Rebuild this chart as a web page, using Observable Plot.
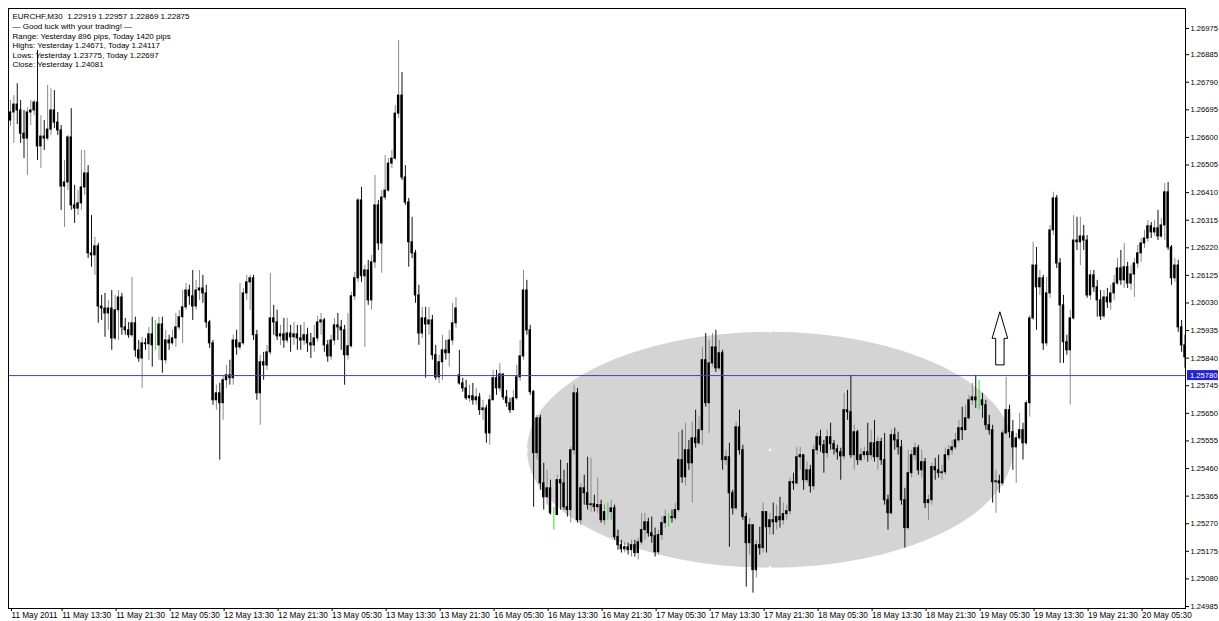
<!DOCTYPE html>
<html><head><meta charset="utf-8">
<script src="https://cdn.jsdelivr.net/npm/d3@7"></script>
<script src="https://cdn.jsdelivr.net/npm/@observablehq/plot@0.6"></script>
<style>html,body{margin:0;padding:0;background:#fff;} #chart svg{display:block;}</style>
</head><body><div id="chart"></div>
<script>
const symbolInfo = [
  "EURCHF,M30  1.22919 1.22957 1.22869 1.22875",
  "\u2014 Good luck with your trading! \u2014",
  "Range: Yesterday 896 pips, Today 1420 pips",
  "Highs: Yesterday 1.24671, Today 1.24117",
  "Lows: Yesterday 1.23775, Today 1.22697",
  "Close: Yesterday 1.24081"
];
const timeLabels = ["11 May 2011","11 May 13:30","11 May 21:30","12 May 05:30","12 May 13:30","12 May 21:30","13 May 05:30","13 May 13:30","13 May 21:30","16 May 05:30","16 May 13:30","16 May 21:30","17 May 05:30","17 May 13:30","17 May 21:30","18 May 05:30","18 May 13:30","18 May 21:30","19 May 05:30","19 May 13:30","19 May 21:30","20 May 05:30"];
const timeBars = [0,15,31,47,63,79,95,111,127,143,159,175,191,207,223,239,255,271,287,303,319,335];
const priceTicks = [1.26975,1.26885,1.26790,1.26695,1.26600,1.26505,1.26410,1.26315,1.26220,1.26125,1.26030,1.25935,1.25840,1.25745,1.25650,1.25555,1.25460,1.25365,1.25270,1.25175,1.25080,1.24985];
const levelPrice = 1.25780;
const ellipseBars = [153.2, 297.2];
const ellipsePrices = [1.25929, 1.25117];
const arrowBar = 293.3;
const arrowPrices = [1.25998, 1.25815];

const openPrice = [
1.26658,1.26686,1.26713,1.26693,1.26613,1.26596,1.26686,1.26693,1.26720,1.26569,
1.26603,1.26596,1.26627,1.26693,1.26651,1.26624,1.26431,1.26445,1.26600,1.26366,
1.26355,1.26373,1.26428,1.26476,1.26201,1.26194,1.26225,1.26018,1.26011,1.25994,
1.26011,1.25908,1.26005,1.26049,1.25946,1.25936,1.25919,1.25960,1.25867,1.25839,
1.25891,1.25888,1.25922,1.25884,1.25884,1.25956,1.25833,1.25901,1.25891,1.25908,
1.25946,1.25981,1.26015,1.26073,1.26053,1.26018,1.26073,1.26080,1.26063,1.25963,
1.25891,1.25695,1.25719,1.25685,1.25764,1.25781,1.25771,1.25901,1.25877,1.25891,
1.26063,1.26101,1.26115,1.25919,1.25719,1.25826,1.25815,1.25860,1.25977,1.25963,
1.25915,1.25922,1.25901,1.25925,1.25912,1.25922,1.25908,1.25901,1.25919,1.25891,
1.25884,1.25908,1.25963,1.25970,1.25884,1.25846,1.25901,1.25953,1.25946,1.25936,
1.25850,1.25881,1.26053,1.26115,1.26383,1.26122,1.26142,1.26039,1.26170,1.26366,
1.26235,1.26393,1.26417,1.26510,1.26527,1.26682,1.26744,1.26462,1.26376,1.26239,
1.26201,1.26056,1.25925,1.25977,1.25956,1.25970,1.25850,1.25774,1.25826,1.25867,
1.25857,1.25901,1.25960,1.25781,1.25753,1.25736,1.25702,1.25709,1.25695,1.25705,
1.25661,1.25667,1.25581,1.25695,1.25771,1.25736,1.25784,1.25705,1.25685,1.25661,
1.25702,1.25774,1.25846,1.26073,1.25936,1.25723,1.25513,1.25633,1.25409,1.25361,
1.25392,1.25300,1.25300,1.25420,1.25409,1.25327,1.25317,1.25523,1.25719,1.25282,
1.25392,1.25375,1.25334,1.25337,1.25327,1.25334,1.25282,1.25310,1.25310,1.25323,
1.25224,1.25196,1.25182,1.25189,1.25179,1.25196,1.25169,1.25206,1.25248,1.25275,
1.25237,1.25227,1.25172,1.25231,1.25272,1.25293,1.25293,1.25289,1.25317,1.25489,
1.25430,1.25523,1.25478,1.25564,1.25547,1.25592,1.25833,1.25685,1.25822,1.25877,
1.25805,1.25857,1.25489,1.25499,1.25375,1.25323,1.25602,1.25523,1.25293,1.25203,
1.25265,1.25110,1.25196,1.25186,1.25310,1.25258,1.25282,1.25275,1.25293,1.25282,
1.25303,1.25313,1.25413,1.25409,1.25499,1.25506,1.25420,1.25454,1.25399,1.25523,
1.25568,1.25540,1.25513,1.25568,1.25544,1.25526,1.25516,1.25502,1.25661,1.25654,
1.25506,1.25585,1.25489,1.25506,1.25516,1.25506,1.25547,1.25499,1.25551,1.25489,
1.25351,1.25306,1.25575,1.25557,1.25533,1.25351,1.25255,1.25444,1.25506,1.25530,
1.25454,1.25482,1.25341,1.25351,1.25465,1.25454,1.25444,1.25447,1.25506,1.25523,
1.25533,1.25557,1.25599,1.25592,1.25633,1.25695,1.25705,1.25695,1.25695,1.25678,
1.25609,1.25592,1.25413,1.25416,1.25409,1.25581,1.25661,1.25585,1.25533,1.25564,
1.25592,1.25547,1.25685,1.25977,1.26159,1.26084,1.26115,1.25891,1.26063,1.26280,
1.26390,1.26166,1.26022,1.25895,1.25867,1.25977,1.26245,1.26239,1.26259,1.26245,
1.26056,1.26125,1.26084,1.26039,1.25984,1.26049,1.26032,1.26063,1.26097,1.26149,
1.26108,1.26153,1.26097,1.26128,1.26166,1.26201,1.26235,1.26252,1.26294,1.26273,
1.26287,1.26259,1.26297,1.26411,1.26221,1.26115,1.26159,1.25946,1.25884];

const highPrice = [
1.26727,1.26744,1.26785,1.26727,1.26693,1.26703,1.26727,1.26727,1.26899,1.26675,
1.26658,1.26779,1.26768,1.26761,1.26686,1.26641,1.26521,1.26607,1.26699,1.26435,
1.26417,1.26555,1.26555,1.26503,1.26331,1.26256,1.26235,1.26056,1.26063,1.26039,
1.26073,1.26056,1.26073,1.26063,1.25977,1.25963,1.26118,1.25981,1.25901,1.25912,
1.25908,1.25946,1.25981,1.25970,1.25981,1.25981,1.25936,1.25919,1.25936,1.25994,
1.26005,1.26073,1.26097,1.26091,1.26142,1.26108,1.26142,1.26125,1.26091,1.25970,
1.25901,1.25747,1.25753,1.25781,1.25815,1.25833,1.25919,1.25936,1.26097,1.26080,
1.26125,1.26125,1.26125,1.25936,1.25850,1.25860,1.25884,1.26132,1.26022,1.26005,
1.25953,1.25977,1.25977,1.25953,1.25963,1.25953,1.25953,1.25963,1.25943,1.25925,
1.25953,1.25984,1.25994,1.25977,1.25901,1.25919,1.25977,1.25994,1.25970,1.25953,
1.25994,1.26067,1.26135,1.26390,1.26428,1.26159,1.26177,1.26194,1.26469,1.26383,
1.26417,1.26538,1.26527,1.26555,1.26710,1.26933,1.26823,1.26503,1.26390,1.26325,
1.26211,1.26091,1.26015,1.26015,1.26015,1.25987,1.25884,1.25850,1.25919,1.25901,
1.25936,1.26029,1.26049,1.25867,1.25771,1.25764,1.25747,1.25753,1.25736,1.25719,
1.25695,1.25678,1.25712,1.25798,1.25798,1.25822,1.25781,1.25729,1.25702,1.25729,
1.25815,1.25901,1.26142,1.26108,1.25953,1.25729,1.25643,1.25643,1.25478,1.25454,
1.25420,1.25327,1.25437,1.25489,1.25454,1.25478,1.25533,1.25747,1.25736,1.25409,
1.25437,1.25499,1.25495,1.25368,1.25427,1.25351,1.25334,1.25341,1.25351,1.25334,
1.25248,1.25213,1.25206,1.25203,1.25213,1.25213,1.25220,1.25306,1.25306,1.25289,
1.25293,1.25255,1.25248,1.25293,1.25317,1.25306,1.25317,1.25341,1.25585,1.25592,
1.25616,1.25557,1.25619,1.25661,1.25637,1.25877,1.25925,1.25901,1.25925,1.25936,
1.25901,1.25867,1.25523,1.25547,1.25385,1.25619,1.25661,1.25540,1.25306,1.25289,
1.25255,1.25213,1.25258,1.25341,1.25300,1.25306,1.25341,1.25334,1.25361,1.25341,
1.25334,1.25427,1.25444,1.25533,1.25533,1.25499,1.25482,1.25471,1.25540,1.25581,
1.25592,1.25557,1.25592,1.25616,1.25557,1.25540,1.25530,1.25719,1.25729,1.25781,
1.25609,1.25592,1.25530,1.25533,1.25616,1.25592,1.25626,1.25568,1.25564,1.25581,
1.25368,1.25592,1.25599,1.25585,1.25557,1.25392,1.25523,1.25523,1.25547,1.25540,
1.25523,1.25495,1.25368,1.25478,1.25495,1.25506,1.25471,1.25530,1.25540,1.25557,
1.25581,1.25626,1.25671,1.25678,1.25712,1.25753,1.25781,1.25764,1.25719,1.25695,
1.25643,1.25609,1.25454,1.25437,1.25592,1.25774,1.25678,1.25626,1.25581,1.25650,
1.25616,1.25695,1.25987,1.26239,1.26221,1.26142,1.26125,1.26118,1.26297,1.26411,
1.26400,1.26183,1.26056,1.25919,1.26005,1.26331,1.26325,1.26325,1.26297,1.26262,
1.26142,1.26142,1.26108,1.26073,1.26073,1.26080,1.26091,1.26125,1.26183,1.26211,
1.26235,1.26170,1.26159,1.26183,1.26228,1.26252,1.26280,1.26314,1.26307,1.26314,
1.26349,1.26321,1.26441,1.26445,1.26228,1.26183,1.26177,1.25970,1.25919];

const lowPrice = [
1.26638,1.26579,1.26644,1.26579,1.26527,1.26469,1.26641,1.26675,1.26521,1.26493,
1.26555,1.26589,1.26607,1.26631,1.26607,1.26349,1.26290,1.26417,1.26349,1.26304,
1.26331,1.26349,1.26400,1.26183,1.26153,1.26125,1.25960,1.25970,1.25912,1.25936,
1.25867,1.25901,1.25901,1.25919,1.25919,1.25908,1.25912,1.25843,1.25826,1.25736,
1.25867,1.25833,1.25809,1.25867,1.25833,1.25788,1.25820,1.25867,1.25884,1.25877,
1.25936,1.25891,1.26005,1.26022,1.25970,1.26005,1.26039,1.26029,1.25943,1.25874,
1.25678,1.25661,1.25489,1.25626,1.25736,1.25747,1.25747,1.25850,1.25867,1.25884,
1.26039,1.26005,1.25901,1.25695,1.25609,1.25764,1.25798,1.25850,1.25919,1.25901,
1.25884,1.25874,1.25891,1.25860,1.25884,1.25867,1.25867,1.25884,1.25860,1.25839,
1.25860,1.25895,1.25919,1.25860,1.25826,1.25833,1.25884,1.25901,1.25867,1.25747,
1.25833,1.25874,1.26039,1.26101,1.26101,1.25877,1.26022,1.26005,1.26149,1.26211,
1.26132,1.26383,1.26411,1.26493,1.26521,1.26665,1.26452,1.26366,1.26153,1.26183,
1.26029,1.25884,1.25908,1.25771,1.25919,1.25833,1.25764,1.25753,1.25764,1.25833,
1.25809,1.25884,1.25943,1.25747,1.25723,1.25695,1.25688,1.25678,1.25678,1.25643,
1.25626,1.25547,1.25540,1.25695,1.25712,1.25723,1.25695,1.25671,1.25650,1.25661,
1.25695,1.25760,1.25833,1.25919,1.25712,1.25327,1.25489,1.25385,1.25317,1.25334,
1.25300,1.25248,1.25300,1.25317,1.25317,1.25293,1.25272,1.25506,1.25272,1.25265,
1.25334,1.25317,1.25310,1.25310,1.25306,1.25272,1.25265,1.25282,1.25282,1.25213,
1.25179,1.25169,1.25169,1.25162,1.25155,1.25155,1.25145,1.25196,1.25213,1.25224,
1.25203,1.25155,1.25162,1.25213,1.25255,1.25258,1.25272,1.25282,1.25310,1.25409,
1.25399,1.25454,1.25341,1.25530,1.25540,1.25540,1.25671,1.25581,1.25809,1.25791,
1.25798,1.25454,1.25471,1.25189,1.25300,1.25317,1.25506,1.25282,1.25052,1.25162,
1.25031,1.25083,1.25162,1.25170,1.25169,1.25231,1.25231,1.25248,1.25255,1.25265,
1.25282,1.25300,1.25385,1.25403,1.25454,1.25385,1.25409,1.25375,1.25385,1.25506,
1.25516,1.25444,1.25495,1.25523,1.25506,1.25489,1.25420,1.25489,1.25626,1.25495,
1.25454,1.25471,1.25482,1.25489,1.25482,1.25489,1.25482,1.25454,1.25471,1.25334,
1.25248,1.25300,1.25523,1.25506,1.25334,1.25186,1.25248,1.25427,1.25489,1.25437,
1.25427,1.25323,1.25282,1.25334,1.25420,1.25427,1.25420,1.25437,1.25489,1.25506,
1.25523,1.25547,1.25557,1.25592,1.25626,1.25678,1.25667,1.25661,1.25633,1.25592,
1.25575,1.25341,1.25306,1.25375,1.25399,1.25575,1.25564,1.25454,1.25409,1.25557,
1.25489,1.25540,1.25637,1.25970,1.25936,1.26056,1.25867,1.25880,1.26046,1.26262,
1.26149,1.25822,1.25822,1.25850,1.25678,1.25970,1.26211,1.26159,1.26211,1.26046,
1.26039,1.26067,1.25981,1.25970,1.25975,1.26011,1.26005,1.26039,1.26091,1.26091,
1.26080,1.26080,1.26073,1.26049,1.26149,1.26170,1.26218,1.26239,1.26252,1.26259,
1.26245,1.26252,1.26245,1.26211,1.26091,1.26101,1.25929,1.25860,1.25805];

const closePrice = [
1.26686,1.26713,1.26693,1.26613,1.26596,1.26686,1.26693,1.26720,1.26569,1.26603,
1.26596,1.26627,1.26693,1.26651,1.26624,1.26431,1.26445,1.26600,1.26366,1.26355,
1.26373,1.26428,1.26476,1.26201,1.26194,1.26225,1.26018,1.26011,1.25994,1.26011,
1.25908,1.26005,1.26049,1.25946,1.25936,1.25919,1.25960,1.25867,1.25839,1.25891,
1.25888,1.25922,1.25884,1.25884,1.25956,1.25833,1.25901,1.25891,1.25908,1.25946,
1.25981,1.26015,1.26073,1.26053,1.26018,1.26073,1.26080,1.26063,1.25963,1.25891,
1.25695,1.25719,1.25685,1.25764,1.25781,1.25771,1.25901,1.25877,1.25891,1.26063,
1.26101,1.26115,1.25919,1.25719,1.25826,1.25815,1.25860,1.25977,1.25963,1.25915,
1.25922,1.25901,1.25925,1.25912,1.25922,1.25908,1.25901,1.25919,1.25891,1.25884,
1.25908,1.25963,1.25970,1.25884,1.25846,1.25901,1.25953,1.25946,1.25936,1.25850,
1.25881,1.26053,1.26115,1.26383,1.26122,1.26142,1.26039,1.26170,1.26366,1.26235,
1.26393,1.26417,1.26510,1.26527,1.26682,1.26744,1.26462,1.26376,1.26239,1.26201,
1.26056,1.25925,1.25977,1.25956,1.25970,1.25850,1.25774,1.25826,1.25867,1.25857,
1.25901,1.25960,1.26011,1.25753,1.25736,1.25702,1.25709,1.25695,1.25705,1.25661,
1.25667,1.25581,1.25695,1.25771,1.25736,1.25784,1.25705,1.25685,1.25661,1.25702,
1.25774,1.25846,1.26073,1.25936,1.25723,1.25513,1.25633,1.25409,1.25361,1.25392,
1.25306,1.25300,1.25420,1.25409,1.25327,1.25317,1.25523,1.25719,1.25282,1.25392,
1.25375,1.25334,1.25337,1.25327,1.25334,1.25282,1.25310,1.25310,1.25323,1.25224,
1.25196,1.25182,1.25189,1.25179,1.25196,1.25169,1.25206,1.25248,1.25275,1.25237,
1.25227,1.25172,1.25231,1.25272,1.25293,1.25293,1.25289,1.25317,1.25489,1.25430,
1.25523,1.25478,1.25564,1.25547,1.25592,1.25833,1.25685,1.25822,1.25877,1.25805,
1.25857,1.25489,1.25499,1.25375,1.25323,1.25602,1.25523,1.25293,1.25203,1.25265,
1.25110,1.25196,1.25186,1.25310,1.25258,1.25282,1.25275,1.25293,1.25282,1.25303,
1.25313,1.25413,1.25409,1.25499,1.25506,1.25420,1.25454,1.25399,1.25523,1.25568,
1.25540,1.25513,1.25568,1.25544,1.25526,1.25516,1.25502,1.25661,1.25654,1.25506,
1.25585,1.25489,1.25506,1.25516,1.25506,1.25547,1.25499,1.25551,1.25489,1.25351,
1.25306,1.25575,1.25557,1.25533,1.25351,1.25255,1.25444,1.25506,1.25530,1.25454,
1.25482,1.25341,1.25351,1.25465,1.25454,1.25444,1.25447,1.25506,1.25523,1.25533,
1.25557,1.25599,1.25592,1.25633,1.25695,1.25705,1.25695,1.25695,1.25678,1.25609,
1.25592,1.25413,1.25416,1.25409,1.25581,1.25661,1.25585,1.25533,1.25564,1.25592,
1.25547,1.25685,1.25977,1.26159,1.26084,1.26115,1.25891,1.26063,1.26280,1.26390,
1.26166,1.26022,1.25895,1.25867,1.25977,1.26245,1.26239,1.26259,1.26245,1.26056,
1.26125,1.26084,1.26039,1.25984,1.26049,1.26032,1.26063,1.26097,1.26149,1.26108,
1.26153,1.26097,1.26128,1.26166,1.26201,1.26235,1.26252,1.26294,1.26273,1.26287,
1.26259,1.26297,1.26411,1.26221,1.26115,1.26159,1.25946,1.25884,1.25843];

const bars = closePrice.map((c, i) => {
  const o = openPrice[i];
  return {i, o, c, h: Math.max(highPrice[i], o, c), l: Math.min(lowPrice[i], o, c), doji: o === c, up: c > o};
});
const upBars = bars.filter(d => d.up);
const downBars = bars.filter(d => !d.up && !d.doji);
const bodies = bars.filter(d => !d.doji);
const dojis = bars.filter(d => d.doji);

function ellipseMark(index, scales) {
  const x = scales.x, y = scales.y;
  const x0 = x(ellipseBars[0]), x1 = x(ellipseBars[1]);
  const y0 = y(ellipsePrices[0]), y1 = y(ellipsePrices[1]);
  const cx = (x0 + x1) / 2, cy = (y0 + y1) / 2;
  const g = d3.create("svg:g");
  g.append("ellipse").attr("cx", cx).attr("cy", cy)
    .attr("rx", Math.abs(x1 - x0) / 2).attr("ry", Math.abs(y1 - y0) / 2)
    .attr("fill", "#d4d4d4");
  return g.node();
}
function ellipseDots(index, scales) {
  const x = scales.x, y = scales.y;
  const x0 = x(ellipseBars[0]), x1 = x(ellipseBars[1]);
  const y0 = y(ellipsePrices[0]), y1 = y(ellipsePrices[1]);
  const cx = (x0 + x1) / 2, cy = (y0 + y1) / 2;
  const g = d3.create("svg:g").attr("fill", "#fff");
  [[cx, y0], [cx, cy], [cx, y1], [x0, cy]].forEach(([a, b]) =>
    g.append("circle").attr("cx", a).attr("cy", b).attr("r", 1.3));
  return g.node();
}
function arrowMark(index, scales) {
  const cx = scales.x(arrowBar);
  const tip = scales.y(arrowPrices[0]), bot = scales.y(arrowPrices[1]);
  const hb = tip + (bot - tip) * 0.5;
  const hw = 7.8, sw = 4.2;
  const d = `M${cx},${tip}L${cx + hw},${hb}L${cx + sw},${hb}L${cx + sw},${bot}L${cx - sw},${bot}L${cx - sw},${hb}L${cx - hw},${hb}Z`;
  const g = d3.create("svg:g");
  g.append("path").attr("d", d).attr("fill", "#fff").attr("stroke", "#000").attr("stroke-width", 1);
  return g.node();
}
function levelTag(index, scales, values, dims) {
  const yy = scales.y(levelPrice);
  const xl = dims.width - dims.marginRight + 2;
  const g = d3.create("svg:g");
  g.append("rect").attr("x", xl).attr("y", yy - 5).attr("width", dims.width - xl - 1).attr("height", 10).attr("fill", "#2424cc");
  g.append("text").attr("x", xl + 3).attr("y", yy).attr("dy", "0.35em").attr("fill", "#fff")
    .attr("text-anchor", "start").attr("font-size", 7.6).text(levelPrice.toFixed(5));
  return g.node();
}

const chart = Plot.plot({
  width: 1219, height: 621,
  marginLeft: 8, marginRight: 34, marginTop: 8, marginBottom: 13,
  style: {fontFamily: "'Liberation Sans', Arial, sans-serif", fontSize: "8px", background: "#fff", color: "#000", overflow: "visible"},
  x: {domain: [-0.593, 348.15]},
  y: {domain: [1.249781, 1.270439]},
  marks: [
    ellipseMark,
    ellipseDots,
    Plot.ruleX(upBars, {x: "i", y1: "l", y2: "h", stroke: "#8a8a8a", strokeWidth: 1, clip: true}),
    Plot.ruleX(downBars, {x: "i", y1: "l", y2: "h", stroke: "#111", strokeWidth: 1, clip: true}),
    Plot.ruleX(dojis, {x: "i", y1: "l", y2: "h", stroke: "#33dd33", strokeWidth: 1, clip: true}),
    Plot.rect(bodies, {x1: d => d.i - 0.36, x2: d => d.i + 0.36, y1: "o", y2: "c", fill: "#000", insetTop: -0.5, insetBottom: -0.5, clip: true}),
    Plot.ruleY([levelPrice], {stroke: "#4040c0", strokeWidth: 1}),
    arrowMark,
    Plot.text([symbolInfo.join("\n")], {frameAnchor: "top-left", dx: 4, dy: 4, lineAnchor: "top", textAnchor: "start", fontSize: 8, lineHeight: 1.2, fill: "#000"}),
    Plot.axisY(priceTicks, {anchor: "right", tickFormat: d => d.toFixed(5), tickSize: 3, tickPadding: 2, fontSize: 7.6, label: null}),
    Plot.axisX(timeBars, {anchor: "bottom", tickFormat: d => timeLabels[timeBars.indexOf(d)], textAnchor: "start", tickSize: 3, tickPadding: 1, dx: 1, fontSize: 8.2, label: null}),
    levelTag,
    Plot.frame({stroke: "#000"})
  ]
});
document.getElementById("chart").appendChild(chart);
</script>
</body></html>
